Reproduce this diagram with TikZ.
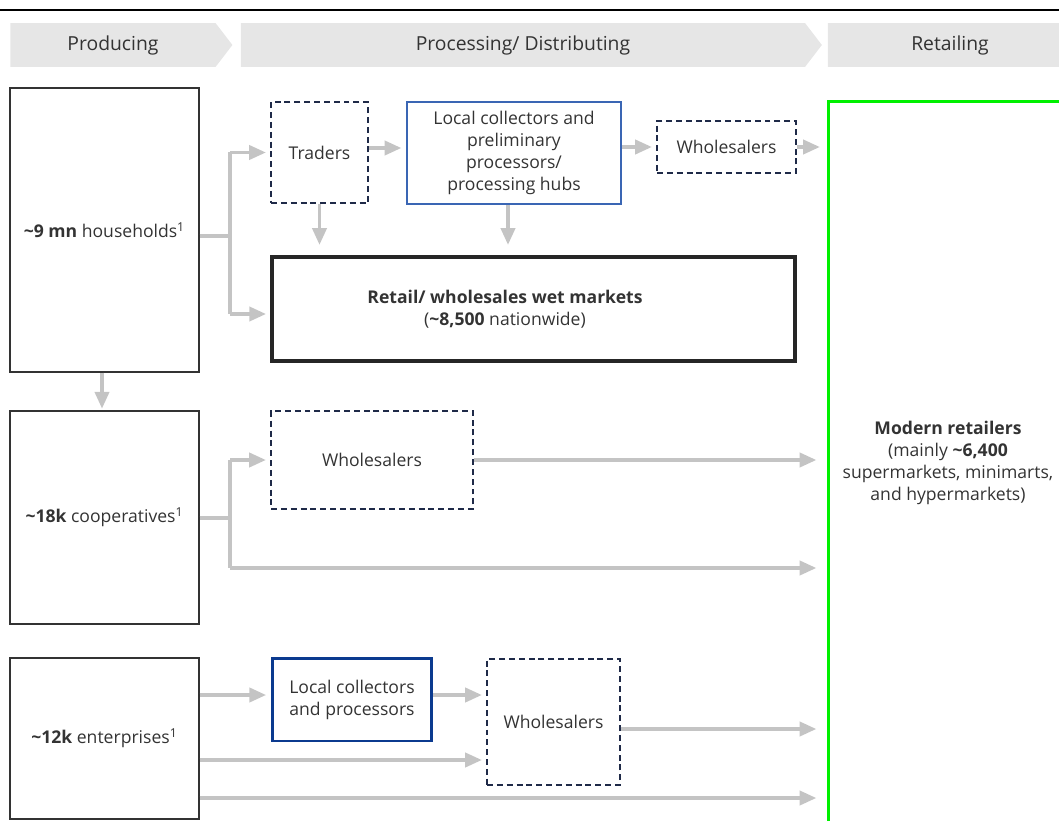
\documentclass[tikz,border=0pt]{standalone}
\usepackage{fontspec}
\setmainfont{Open Sans}
\usetikzlibrary{arrows.meta, shapes.symbols, positioning}

\definecolor{bandgray}{HTML}{E6E6E6}
\definecolor{txtgray}{HTML}{333333}
\definecolor{boxgray}{HTML}{333333}
\definecolor{navy}{HTML}{1F2A48}
\definecolor{hubblue}{HTML}{3A66B4}
\definecolor{deepblue}{HTML}{0B3A8F}
\definecolor{flowgray}{HTML}{C4C4C4}
\definecolor{retailgreen}{HTML}{00F000}

\tikzset{
    band/.style={signal, signal to=east, signal pointer angle=105, fill=bandgray,
        inner sep=0pt, minimum height=0.88cm, text=txtgray,
        font=\fontsize{11}{13}\selectfont},
    producer/.style={draw=boxgray, line width=0.7pt, inner sep=0pt, text=txtgray,
        font=\fontsize{10}{12.5}\selectfont},
    actor/.style={draw=navy, dash pattern=on 3.4pt off 2.2pt, line width=0.8pt,
        inner sep=0pt, text=txtgray, align=center, font=\fontsize{10}{12.5}\selectfont},
    hubbox/.style={draw=hubblue, line width=1.4pt, inner sep=0pt, text=txtgray,
        align=center, font=\fontsize{10}{12.5}\selectfont},
    marketbox/.style={draw=black!85, line width=1.8pt, inner sep=0pt},
    plain/.style={text=txtgray, align=center, font=\fontsize{10}{12.5}\selectfont},
    flowline/.style={draw=flowgray, line width=2pt},
    flow/.style={flowline, -{Triangle[length=9.5pt, width=8pt]}, shorten >=2.5pt},
    toretail/.style={flow, shorten >=7pt}
}

\begin{document}
\begin{tikzpicture}[x=0.02cm, y=-0.02cm]

    \clip (0,0) rectangle (1059,821);
    \useasboundingbox (0,0) rectangle (1059,821);

    \draw[line width=1.2pt] (0,10) -- (1059,10);

    % stage bands
    \node[band, minimum width=4.44cm] (producing) at (113,45) {Producing};
    \node[band, minimum width=11.62cm] (processing) at (523,45) {Processing/ Distributing};
    \node[band, minimum width=5.22cm] (retailing) at (950,45) {Retailing};

    % producers
    \node[producer, minimum width=3.78cm, minimum height=5.68cm] (hh) at (104.5,230)
        {\textbf{\textasciitilde 9 mn} households\textsuperscript{1}};
    \node[producer, minimum width=3.78cm, minimum height=4.26cm] (coop) at (104.5,517.5)
        {\textbf{\textasciitilde 18k} cooperatives\textsuperscript{1}};
    \node[producer, minimum width=3.78cm, minimum height=3.22cm] (ent) at (104.5,738.5)
        {\textbf{\textasciitilde 12k} enterprises\textsuperscript{1}};

    % processing / distributing
    \node[actor, minimum width=1.94cm, minimum height=2.02cm] (traders) at (319.5,152.5) {Traders};
    \node[hubbox, minimum width=4.28cm, minimum height=2.04cm] (hub) at (514,153)
        {Local collectors and\\preliminary\\processors/\\processing hubs};
    \node[actor, minimum width=2.78cm, minimum height=1.04cm] (whtop) at (726.5,147) {Wholesalers};
    \node[marketbox, minimum width=10.46cm, minimum height=2.08cm] (wet) at (533.5,309) {};
    \node[plain] (wettxt) at (505,309)
        {\textbf{Retail/ wholesales wet markets}\\(\textbf{\textasciitilde 8,500} nationwide)};

    \node[actor, minimum width=4.04cm, minimum height=1.96cm] (whmid) at (372,460) {Wholesalers};

    \node[hubbox, draw=deepblue, line width=1.7pt, minimum width=3.2cm, minimum height=1.66cm] (lcp)
        at (352,699.5) {Local collectors\\and processors};
    \node[actor, minimum width=2.66cm, minimum height=2.52cm] (whbot) at (553.5,722) {Wholesalers};

    % retailing
    \node[minimum width=5.02cm, minimum height=14.76cm, inner sep=0pt] (retail) at (954.5,471) {};
    \draw[retailgreen, line width=1.7pt] (retail.south west) -- (retail.north west) -- (retail.north east);
    \node[plain] (retailtxt) at (948,463)
        {\textbf{Modern retailers}\\(mainly \textbf{\textasciitilde 6,400}\\supermarkets, minimarts,\\and hypermarkets)};

    % flows from households
    \coordinate (hhfork) at (230,236);
    \draw[flowline] (hh.east |- hhfork) -- (hhfork);
    \draw[flowline] (hhfork |- traders.west) -- (hhfork |- 0,314);
    \draw[flow] (hhfork |- traders.west) -- (traders.west);
    \draw[flow] (hhfork |- 0,314) -- (wet.west |- 0,314);
    \draw[flow] (traders.east |- 0,148) -- (hub.west |- 0,148);
    \draw[flow] (hub.east |- whtop) -- (whtop.west);
    \draw[toretail, shorten >=5pt] (whtop.east) -- (retail.west |- whtop.east);
    \draw[flow, shorten >=6pt] (traders.south) -- (traders.south |- wet.north);
    \draw[flow, shorten >=6pt] (hub.south -| 508,0) -- (wet.north -| 508,0);
    \draw[flow, shorten >=1pt] (hh.south -| 102,0) -- (coop.north -| 102,0);

    % flows from cooperatives
    \coordinate (coopfork) at (230,518);
    \draw[flowline] (coop.east |- coopfork) -- (coopfork);
    \draw[flowline] (hhfork |- whmid.west) -- (coopfork |- 0,568);
    \draw[flow] (coopfork |- whmid.west) -- (whmid.west);
    \draw[toretail] (coopfork |- 0,568) -- (retail.west |- 0,568);
    \draw[toretail] (whmid.east) -- (retail.west |- whmid.east);

    % flows from enterprises
    \draw[flow] (ent.east |- 0,695) -- (lcp.west |- 0,695);
    \draw[flow] (lcp.east |- 0,695) -- (whbot.west |- 0,695);
    \draw[flow] (ent.east |- 0,760) -- (whbot.west |- 0,760);
    \draw[toretail] (whbot.east |- 0,729) -- (retail.west |- 0,729);
    \draw[toretail] (ent.east |- 0,798) -- (retail.west |- 0,798);

\end{tikzpicture}
\end{document}
